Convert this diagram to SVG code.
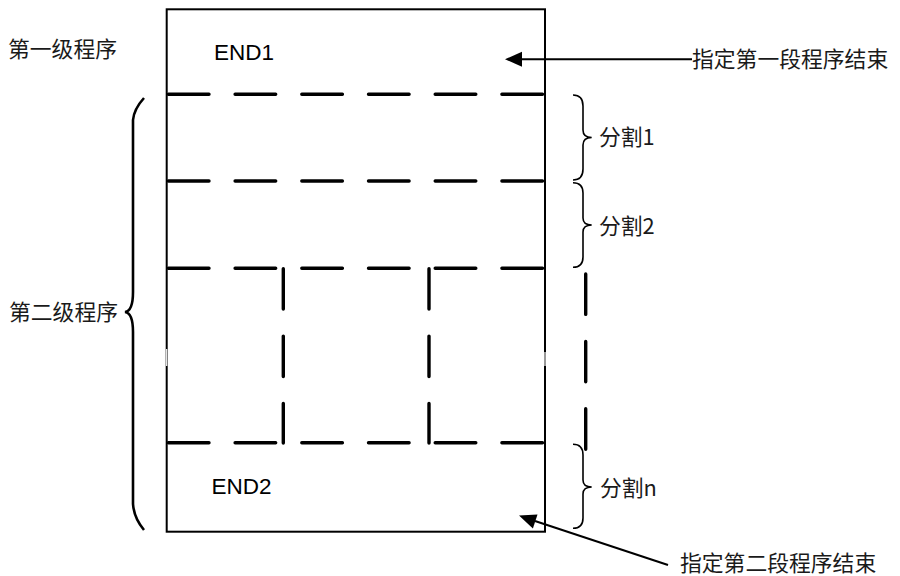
<svg xmlns="http://www.w3.org/2000/svg" width="900" height="576" viewBox="0 0 900 576">
<style>
.box{fill:none;stroke:#000;stroke-width:2}
.dash{fill:none;stroke:#000;stroke-width:3.4;stroke-linecap:round;stroke-dasharray:40.6 26.1}
.vdash{fill:none;stroke:#000;stroke-width:3.4;stroke-linecap:round;stroke-dasharray:40.4 27}
.brace{fill:none;stroke:#000;stroke-width:1.6}
.bigbrace{fill:none;stroke:#000;stroke-width:2.6}
.cjk{font-family:"Noto Sans CJK SC","Noto Sans",sans-serif;font-size:21.8px;fill:#1a1a1a}
.lat{font-family:"Liberation Sans",Arial,sans-serif;font-size:22.5px;fill:#000}
.arrow{fill:none;stroke:#000;stroke-width:2}
</style>
<g id="program-box">
<rect class="box" x="166.7" y="9.3" width="378.3" height="522.4"/>
<line x1="166.7" y1="349" x2="166.7" y2="366" stroke="#fff" stroke-width="1.2"/>
<line x1="545" y1="352" x2="545" y2="366" stroke="#fff" stroke-width="1.2"/>
<path class="dash" d="M168.4 94.3 H545"/>
<path class="dash" d="M168.4 181 H545"/>
<path class="dash" d="M168.4 268.3 H545"/>
<path class="dash" d="M168.4 442.7 H545"/>
<path class="vdash" d="M283.3 268.7 V443"/>
<path class="vdash" d="M429 268.7 V443"/>
<text class="lat" x="214" y="60">END1</text>
<text class="lat" x="211.5" y="494">END2</text>
</g>
<g id="level1-label">
<text class="cjk" x="8" y="57">第一级程序</text>
</g>
<g id="level2-label">
<text class="cjk" x="9" y="320">第二级程序</text>
<path class="bigbrace" d="M144 98 Q134 109 133 120 L133 292 Q133 311 125 312 Q133 313 133 332 L133 504 Q134 518 144 530"/>
</g>
<g id="split1">
<path class="brace" d="M573 95 Q583 95 583 106 L583 130 Q583 137.5 591.7 137.5 Q583 137.5 583 145 L583 169 Q583 180 573 180"/>
<text class="cjk" x="599" y="145">分割1</text>
</g>
<g id="split2">
<path class="brace" d="M573 182.7 Q583 182.7 583 193 L583 218 Q583 225 591.7 225 Q583 225 583 232 L583 257 Q583 267.3 573 267.3"/>
<text class="cjk" x="599" y="234">分割2</text>
</g>
<g id="splitn">
<path class="vdash" d="M585.7 274 V450"/>
<path class="brace" d="M573 444.3 Q583 444.3 583 455 L583 480 Q583 487 591.7 487 Q583 487 583 494 L583 518 Q583 528.3 573 528.3"/>
<text class="cjk" x="600" y="496">分割n</text>
</g>
<g id="end1-note">
<text class="cjk" x="692" y="67">指定第一段程序结束</text>
</g>
<g id="end2-note">
<text class="cjk" x="680" y="571">指定第二段程序结束</text>
</g>
<g id="connectors">
<path class="arrow" d="M692 59.3 L521 59.3"/>
<path d="M505 59.3 L522 51.8 L522 66.8 Z" fill="#000"/>
<path class="arrow" d="M668 565 L535 521"/>
<path d="M519 515.5 L537.5 514.4 L532.9 528.6 Z" fill="#000"/>
</g>
</svg>
